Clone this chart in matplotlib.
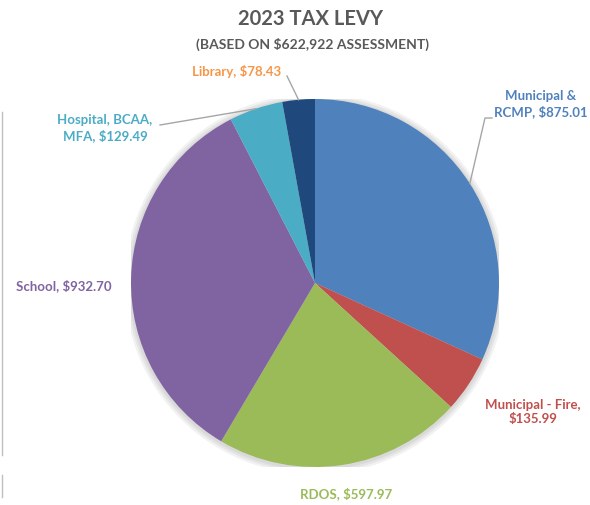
import matplotlib
matplotlib.use("Agg")
import matplotlib.pyplot as plt
from matplotlib.lines import Line2D
from matplotlib.patches import Circle
import numpy as np

plt.rcParams['font.family'] = ['Lato', 'DejaVu Sans']

title = "2023 TAX LEVY"
subtitle = "(BASED ON $622,922 ASSESSMENT)"
categories = ["Municipal &\nRCMP", "Municipal - Fire", "RDOS", "School", "Hospital, BCAA,\nMFA", "Library"]
values = [875.01, 135.99, 597.97, 932.70, 129.49, 78.43]
slice_colors = ["#4f81bd", "#c0504d", "#9bbb59", "#8064a2", "#4bacc6", "#1f497d"]
label_colors = ["#4f81bd", "#c0504d", "#9bbb59", "#8064a2", "#4bacc6", "#f79646"]
label_texts = ["Municipal &\nRCMP, $875.01", "Municipal - Fire,\n$135.99", "RDOS, $597.97",
               "School, $932.70", "Hospital, BCAA,\nMFA, $129.49", "Library, $78.43"]

W, H = 590, 505
fig = plt.figure(figsize=(W / 100, H / 100), dpi=100)
cx, cy, r = 315, 283, 184
ax = fig.add_axes([(cx - r) / W, (H - cy - r) / H, 2 * r / W, 2 * r / H])
ax.set_xlim(-1, 1)
ax.set_ylim(-1, 1)
ax.axis('off')

# soft shadow
for k, a in enumerate([0.05, 0.05, 0.05]):
    ax.add_patch(Circle((0.0, -0.005), 1.0 + 0.012 * (k + 1), color='#000000', alpha=a, lw=0, zorder=0))

wedges, _ = ax.pie(values, colors=slice_colors, startangle=90, counterclock=False,
                   radius=1.0, wedgeprops=dict(linewidth=0), center=(0, 0))
ax.set_xlim(-1, 1)
ax.set_ylim(-1, 1)

def px(x, y):
    return x / W, 1 - y / H

fig.text(*px(310, 19), title, ha='center', va='center', fontsize=14.5, fontweight='bold', color='#595959')
fig.text(*px(312, 44), subtitle, ha='center', va='center', fontsize=10, fontweight='bold', color='#595959')

label_pos = [(541, 104), (533, 412), (346, 494), (64, 286), (105, 128), (237, 71)]
for t, c, (lx, ly) in zip(label_texts, label_colors, label_pos):
    fig.text(*px(lx, ly), t, ha='center', va='center', fontsize=9.5, fontweight='bold',
             color=c, linespacing=1.25)

# leader lines (from label anchor to slice edge at the slice's mid angle)
fig.canvas.draw()
total = sum(values)
mids = []
ang = 90.0
for v in values:
    span = 360.0 * v / total
    mids.append(ang - span / 2)
    ang -= span

def edge_point(i):
    th = np.deg2rad(mids[i])
    x, y = ax.transData.transform((np.cos(th), np.sin(th)))
    return x / W, y / H

leaders = {0: [(492, 118), (485, 118)], 4: [(160, 125)], 5: [(287, 76)]}
for i, pts in leaders.items():
    xs = [px(*p)[0] for p in pts]
    ys = [px(*p)[1] for p in pts]
    ex, ey = edge_point(i)
    xs.append(ex)
    ys.append(ey)
    fig.add_artist(Line2D(xs, ys, transform=fig.transFigure, color='#a6a6a6', lw=1.0))

# screenshot border line at left
fig.add_artist(Line2D([1.5 / W, 1.5 / W], [1 - 112 / H, 1 - 455 / H], transform=fig.transFigure, color='#bfbfbf', lw=1))
fig.add_artist(Line2D([1.5 / W, 1.5 / W], [1 - 475 / H, 1 - 497 / H], transform=fig.transFigure, color='#bfbfbf', lw=1))

fig.savefig("out.png", dpi=100)
